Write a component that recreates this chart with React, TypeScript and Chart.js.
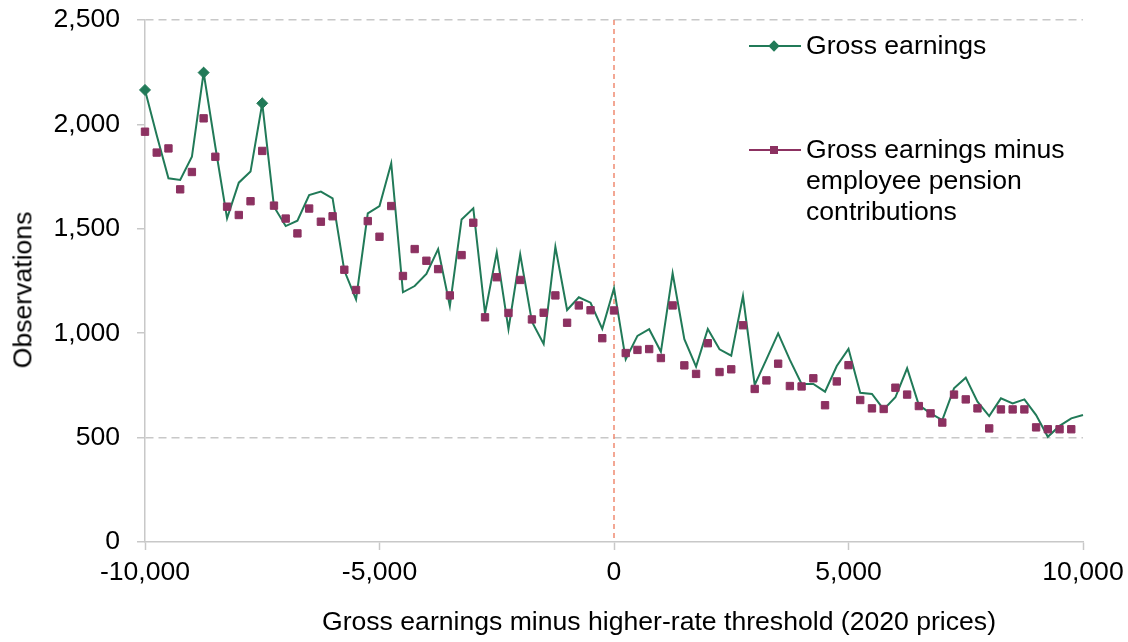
import { useEffect, useRef } from "react";
import { Chart, registerables } from "chart.js";
import type { ChartConfiguration, Plugin, ScriptableContext } from "chart.js";

Chart.register(...registerables);

// bins of gross earnings minus the higher-rate threshold (2020 prices)
const bins = [
  -10000, -9750, -9500, -9250, -9000, -8750, -8500, -8250, -8000, -7750,
  -7500, -7250, -7000, -6750, -6500, -6250, -6000, -5750, -5500, -5250,
  -5000, -4750, -4500, -4250, -4000, -3750, -3500, -3250, -3000, -2750,
  -2500, -2250, -2000, -1750, -1500, -1250, -1000, -750, -500, -250,
  0, 250, 500, 750, 1000, 1250, 1500, 1750, 2000, 2250,
  2500, 2750, 3000, 3250, 3500, 3750, 4000, 4250, 4500, 4750,
  5000, 5250, 5500, 5750, 6000, 6250, 6500, 6750, 7000, 7250,
  7500, 7750, 8000, 8250, 8500, 8750, 9000, 9250, 9500, 9750,
  10000,
];

const grossEarnings = [
  2165, 1948, 1742, 1734, 1845, 2248, 1893, 1550, 1721, 1774,
  2101, 1606, 1513, 1539, 1662, 1678, 1646, 1300, 1162, 1574,
  1609, 1814, 1196, 1226, 1284, 1403, 1130, 1545, 1598, 1095,
  1387, 1019, 1378, 1055, 948, 1414, 1111, 1172, 1146, 1021,
  1215, 875, 987, 1019, 911, 1287, 971, 840, 1020, 923,
  892, 1178, 752, 875, 999, 872, 757, 757, 720, 843,
  925, 715, 709, 635, 693, 832, 656, 616, 584, 736,
  787, 672, 603, 688, 664, 683, 608, 504, 556, 592,
  608,
];

const grossMinusPension: (number | null)[] = [
  1965, 1865, 1885, 1689, 1772, 2029, 1845, 1606, 1566, 1632,
  1873, 1611, 1549, 1478, 1597, 1534, 1560, 1304, 1207, 1537,
  1462, 1609, 1274, 1403, 1347, 1307, 1181, 1374, 1529, 1076,
  1268, 1097, 1255, 1066, 1098, 1181, 1050, 1133, 1110, 976,
  1109, 905, 920, 924, 881, 1133, 846, 805, 952, 814,
  827, 1038, 733, 774, 854, 747, 745, 784, 655, 769,
  847, 680, 640, 637, 739, 706, 651, 616, 572, 706,
  683, 640, 544, 635, 635, 635, 549, 540, 540, 540,
  null,
];

// bins where the gross earnings series shows a marker
const markedBins = [-10000, -8750, -7500];
// horizontal gridlines that are drawn
const dashedGridValues = [500, 2500];
const threshold = 0;

const GREEN = "#217a58";
const PURPLE = "#8c3161";
const AXIS_GREY = "#c8c8c8";
const FONT = "'Liberation Sans', Arial, sans-serif";
const FONT_SIZE = 26.6;

const thresholdLine: Plugin<"line"> = {
  id: "thresholdLine",
  beforeDatasetsDraw(chart) {
    const { ctx, chartArea, scales } = chart;
    const x = scales.x.getPixelForValue(threshold);
    ctx.save();
    ctx.strokeStyle = "#f08a72";
    ctx.lineWidth = 1.5;
    ctx.setLineDash([5, 4]);
    ctx.beginPath();
    ctx.moveTo(x, chartArea.top);
    ctx.lineTo(x, chartArea.bottom);
    ctx.stroke();
    ctx.restore();
  },
};

const fmt = (v: number | string) => Number(v).toLocaleString("en-US");

export default function App() {
  const canvasRef = useRef<HTMLCanvasElement>(null);
  const chartInstance = useRef<Chart | null>(null);

  useEffect(() => {
    if (!canvasRef.current) return;
    const ctx = canvasRef.current.getContext("2d");
    if (!ctx) return;

    const config: ChartConfiguration<"line"> = {
      type: "line",
      data: {
        datasets: [
          {
            label: "Gross earnings",
            data: bins.map((x, i) => ({ x, y: grossEarnings[i] })),
            borderColor: GREEN,
            backgroundColor: GREEN,
            borderWidth: 2,
            tension: 0,
            clip: false,
            pointStyle: "rectRot",
            pointRadius: (c: ScriptableContext<"line">) =>
              markedBins.includes(bins[c.dataIndex]) ? 5.5 : 0,
            pointHoverRadius: 0,
            pointBorderWidth: 1,
            order: 2,
          },
          {
            label: "Gross earnings minus employee pension contributions",
            data: bins.map((x, i) => ({ x, y: grossMinusPension[i] as number })),
            borderColor: PURPLE,
            backgroundColor: PURPLE,
            showLine: false,
            clip: false,
            pointStyle: "rect",
            pointRadius: 5.2,
            pointHoverRadius: 5.2,
            pointBorderWidth: 1,
            order: 1,
          },
        ],
      },
      options: {
        animation: false,
        responsive: false,
        layout: { padding: { top: 20, right: 45, bottom: 0, left: 0 } },
        plugins: {
          legend: { display: false },
          tooltip: { enabled: false },
        },
        scales: {
          x: {
            type: "linear",
            min: -10000,
            max: 10000,
            ticks: {
              stepSize: 5000,
              color: "#000",
              padding: 7,
              font: { family: FONT, size: FONT_SIZE },
              callback: (v) => fmt(v),
            },
            grid: {
              drawOnChartArea: false,
              drawTicks: true,
              tickLength: 8,
              tickColor: AXIS_GREY,
              tickWidth: 1.5,
            },
            border: { color: AXIS_GREY, width: 1.5 },
            afterFit(scale) {
              scale.height = 100;
              scale.paddingLeft = 0;
              scale.paddingRight = 0;
            },
          },
          y: {
            min: 0,
            max: 2500,
            ticks: {
              stepSize: 500,
              color: "#000",
              padding: 17,
              font: { family: FONT, size: FONT_SIZE },
              callback: (v) => fmt(v),
            },
            grid: {
              color: (c) =>
                c.tick && dashedGridValues.includes(c.tick.value) ? AXIS_GREY : "transparent",
              lineWidth: 1.5,
              tickLength: 8,
              tickColor: AXIS_GREY,
              tickWidth: 1.5,
            },
            border: { color: AXIS_GREY, width: 1.5, dash: [8, 5] },
            afterFit(scale) {
              scale.width = 145;
              scale.paddingTop = 0;
              scale.paddingBottom = 0;
            },
          },
        },
      },
      plugins: [thresholdLine],
    };

    chartInstance.current = new Chart(ctx, config);

    return () => {
      if (chartInstance.current) {
        chartInstance.current.destroy();
      }
    };
  }, []);

  const text: React.CSSProperties = {
    position: "absolute",
    fontFamily: FONT,
    fontSize: FONT_SIZE,
    lineHeight: "31.2px",
    color: "#000",
    whiteSpace: "nowrap",
  };

  return (
    <div
      style={{
        position: "fixed",
        left: 0,
        top: 0,
        width: 1128,
        height: 642,
        background: "#fff",
      }}
    >
      <canvas ref={canvasRef} width={1128} height={642} style={{ width: 1128, height: 642 }} />

      {/* axis titles */}
      <div style={{ ...text, left: 659, top: 622, transform: "translate(-50%, -50%)" }}>
        Gross earnings minus higher-rate threshold (2020 prices)
      </div>
      <div
        style={{
          ...text,
          left: 23,
          top: 290,
          transform: "translate(-50%, -50%) rotate(-90deg)",
        }}
      >
        Observations
      </div>

      {/* legend */}
      <div style={{ position: "absolute", left: 749, top: 45, width: 52, height: 2, background: GREEN }} />
      <div
        style={{
          position: "absolute",
          left: 770,
          top: 42,
          width: 8,
          height: 8,
          background: GREEN,
          transform: "rotate(45deg)",
        }}
      />
      <div style={{ ...text, left: 806, top: 30.4 }}>Gross earnings</div>

      <div style={{ position: "absolute", left: 749, top: 148.5, width: 52, height: 2, background: PURPLE }} />
      <div
        style={{ position: "absolute", left: 770, top: 145.5, width: 8, height: 8, background: PURPLE }}
      />
      <div style={{ ...text, left: 806, top: 134 }}>
        Gross earnings minus
        <br />
        employee pension
        <br />
        contributions
      </div>
    </div>
  );
}
